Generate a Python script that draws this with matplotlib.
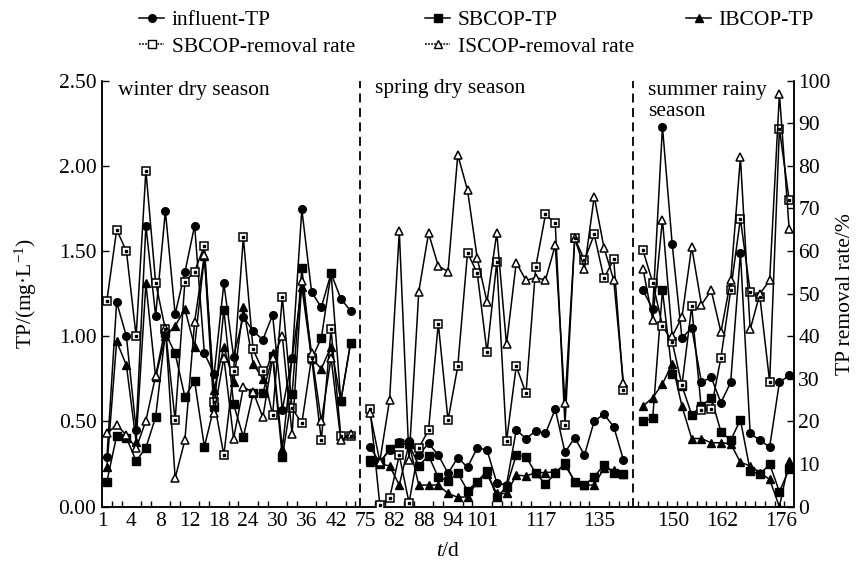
import numpy as np
import matplotlib
matplotlib.use("Agg")
import matplotlib.pyplot as plt
from matplotlib.lines import Line2D

# ---------------- data ----------------
# winter dry season (26 samples), spring dry season (27), summer rainy season (16)
winter_influent = [0.29, 1.20, 1.00, 0.45, 1.65, 1.12, 1.735, 1.13, 1.375, 1.65, 0.90, 0.78, 1.31,
                   0.88, 1.115, 1.03, 0.98, 1.125, 0.57, 0.87, 1.745, 1.26, 1.17, 1.37, 1.22, 1.15]
winter_sbcop = [0.147, 0.417, 0.405, 0.268, 0.346, 0.526, 1.02, 0.90, 0.645, 0.737, 0.352, 0.587, 1.155,
                0.60, 0.41, 0.665, 0.665, 0.884, 0.29, 0.66, 1.40, 0.865, 0.99, 1.37, 0.62, 0.96]
winter_ibcop = [0.235, 0.97, 0.83, 0.38, 1.31, 0.76, 1.00, 1.06, 1.16, 0.94, 1.47, 0.685, 0.94,
                0.73, 1.17, 0.84, 0.75, 0.90, 0.34, 0.87, 1.29, 0.87, 0.81, 0.94, 0.62, 0.96]
winter_sb_rate = [48.4, 65.0, 60.0, 40.0, 78.9, 52.6, 41.6, 20.3, 52.8, 55.2, 61.3, 24.6, 12.1,
                  31.9, 63.2, 36.9, 31.9, 21.5, 49.3, 23.1, 19.6, 35.0, 15.6, 41.6, 16.6, 16.6]
winter_is_rate = [17.2, 19.2, 16.8, 13.7, 20.2, 30.7, 42.0, 6.7, 15.6, 43.4, 59.0, 22.0, 35.0,
                  16.0, 28.0, 27.0, 21.0, 35.0, 40.0, 17.0, 53.0, 36.0, 20.0, 35.0, 15.6, 17.0]

spring_influent = [0.348, 0.26, 0.333, 0.381, 0.385, 0.303, 0.372, 0.303, 0.196, 0.288, 0.231, 0.346,
                   0.333, 0.141, 0.127, 0.45, 0.40, 0.444, 0.43, 0.573, 0.319, 0.405, 0.303, 0.503,
                   0.542, 0.47, 0.274]
spring_sbcop = [0.274, 0.26, 0.336, 0.372, 0.366, 0.24, 0.30, 0.172, 0.153, 0.196, 0.094, 0.147, 0.211,
                0.055, 0.117, 0.303, 0.293, 0.196, 0.133, 0.196, 0.254, 0.147, 0.127, 0.176, 0.245,
                0.20, 0.19]
spring_ibcop = [0.26, 0.25, 0.24, 0.127, 0.37, 0.127, 0.127, 0.127, 0.078, 0.055, 0.058, 0.147, 0.19,
                0.078, 0.078, 0.186, 0.18, 0.20, 0.20, 0.205, 0.245, 0.147, 0.127, 0.127, 0.225,
                0.215, 0.19]
spring_sb_rate = [22.9, 0.5, 2.0, 12.1, 0.9, 13.8, 18.0, 43.0, 20.3, 33.0, 59.6, 54.8, 36.2, 57.4,
                  15.4, 33.0, 26.6, 56.3, 68.6, 66.5, 19.2, 63.0, 57.9, 63.9, 53.6, 58.1, 27.4]
spring_is_rate = [21.9, 10.6, 25.0, 64.6, 11.0, 50.5, 64.2, 56.5, 55.2, 82.6, 74.3, 58.3, 48.1, 64.3,
                  38.1, 57.3, 53.1, 53.8, 53.2, 61.4, 24.3, 63.0, 55.9, 72.8, 60.8, 53.2, 29.0]

summer_influent = [1.27, 1.16, 2.23, 1.54, 0.99, 1.05, 0.73, 0.76, 0.61, 0.73, 1.49, 0.43, 0.39,
                   0.35, 0.73, 0.77]
summer_sbcop = [0.50, 0.52, 1.27, 0.78, 0.71, 0.54, 0.59, 0.64, 0.44, 0.39, 0.51, 0.21, 0.19,
                0.25, 0.088, 0.22]
summer_ibcop = [0.59, 0.64, 0.72, 0.84, 0.59, 0.40, 0.40, 0.375, 0.375, 0.37, 0.26, 0.24, 0.20,
                0.16, 0.0, 0.27]
summer_sb_rate = [60.2, 52.6, 42.5, 38.7, 28.5, 47.0, 22.7, 23.0, 35.0, 50.8, 67.6, 50.4, 49.2,
                  29.3, 88.7, 72.0]
summer_is_rate = [55.9, 43.9, 67.4, 40.0, 44.5, 61.0, 47.4, 50.8, 41.0, 53.1, 82.0, 41.6, 50.0,
                  53.1, 96.9, 65.2]

season_names = ["winter dry season", "spring dry season", "summer rainy\nseason"]
season_start_slot = [0, 27, 55]        # category slot of first sample in each season
divider_slots = [26.5, 54.5]
xtick_slots = [0, 3, 6, 9, 12, 15, 18, 21, 24, 27, 30, 33, 36, 39, 45, 51, 58.6, 63.6, 69.7]
xtick_labels = ["1", "4", "8", "12", "18", "24", "30", "36", "42", "75", "82", "88", "94", "101",
                "117", "135", "150", "162", "176"]
n_slots = 71

# ---------------- style ----------------
plt.rcParams["font.family"] = ["Liberation Serif", "DejaVu Serif"]
plt.rcParams["mathtext.fontset"] = "custom"
plt.rcParams["mathtext.rm"] = "Liberation Serif"
plt.rcParams["mathtext.it"] = "Liberation Serif:italic"
FS = 15.5

fig = plt.figure(figsize=(8.56, 5.63), dpi=100)
ax = fig.add_axes([0.1192, 0.1, 0.8084, 0.7567])
ax2 = ax.twinx()

seasons = [
    (winter_influent, winter_sbcop, winter_ibcop, winter_sb_rate, winter_is_rate),
    (spring_influent, spring_sbcop, spring_ibcop, spring_sb_rate, spring_is_rate),
    (summer_influent, summer_sbcop, summer_ibcop, summer_sb_rate, summer_is_rate),
]

lw = 1.1
for (inf, sb, ib, sbr, isr), start in zip(seasons, season_start_slot):
    x = start + np.arange(len(inf)) + 0.5
    ax2.plot(x, sbr, color="black", lw=lw, marker="s", ms=5.2, mfc="white", mec="black", mew=1.1, zorder=3)
    ax2.plot(x, sbr, ls="none", marker="s", ms=1.6, mfc="black", mec="black", zorder=4)
    ax2.plot(x, isr, color="black", lw=lw, marker="^", ms=6, mfc="white", mec="black", mew=1.1, zorder=3)
    ax.plot(x, inf, color="black", lw=lw, marker="o", ms=5.5, mfc="black", mec="black", zorder=3)
    ax.plot(x, sb, color="black", lw=lw, marker="s", ms=5.5, mfc="black", mec="black", zorder=3)
    ax.plot(x, ib, color="black", lw=lw, marker="^", ms=6, mfc="black", mec="black", zorder=3)

for d in divider_slots:
    ax.axvline(d, color="black", lw=1.3, ls=(0, (5, 3)), zorder=2)

ax.set_xlim(0, n_slots)
ax.set_ylim(0, 2.5)
ax2.set_ylim(0, 100)

ax.set_xticks(xtick_slots)
ax.set_xticklabels(xtick_labels, fontsize=FS)
ax.set_xticks(np.arange(1, n_slots), minor=True)
ax.tick_params(axis="x", which="major", length=0, pad=4)
ax.tick_params(axis="x", which="minor", direction="in", length=4.5, width=1)

ax.set_yticks(np.arange(0, 2.51, 0.5))
ax.set_yticklabels([f"{v:.2f}" for v in np.arange(0, 2.51, 0.5)], fontsize=FS)
ax.tick_params(axis="y", direction="in", length=5, width=1, pad=4)
ax2.set_yticks(np.arange(0, 101, 10))
ax2.set_yticklabels([str(v) for v in range(0, 101, 10)], fontsize=FS)
ax2.tick_params(axis="y", direction="in", length=5, width=1, pad=3)

for a in (ax, ax2):
    a.spines["top"].set_visible(False)
    for s in ("left", "right", "bottom"):
        a.spines[s].set_linewidth(1.1)

ax.set_ylabel("TP/(mg·L$^{-1}$)", fontsize=FS, labelpad=14)
ax2.set_ylabel("TP removal rate/%", fontsize=FS, labelpad=4)
ax.set_xlabel("$t$/d", fontsize=FS, labelpad=8)

ax.text(1.6, 2.445, season_names[0], fontsize=FS, va="center", ha="left")
ax.text(28.0, 2.455, season_names[1], fontsize=FS, va="center", ha="left")
ax.text(56.0, 2.38, season_names[2], fontsize=FS, va="center", ha="left", linespacing=1.1)

# legend: three manually placed columns
solid_circle = Line2D([], [], color="black", lw=lw, marker="o", ms=5.5)
solid_square = Line2D([], [], color="black", lw=lw, marker="s", ms=5.5)
solid_tri = Line2D([], [], color="black", lw=lw, marker="^", ms=6)
open_square = Line2D([], [], color="black", lw=lw, ls=(0, (1.2, 0.8)), marker="s", ms=5.2,
                     mfc="white", mec="black")
open_tri = Line2D([], [], color="black", lw=lw, ls=(0, (1.2, 0.8)), marker="^", ms=6,
                  mfc="white", mec="black")
columns = [
    ([solid_circle, open_square], ["influent-TP", "SBCOP-removal rate"], 135),
    ([solid_square, open_tri], ["SBCOP-TP", "ISCOP-removal rate"], 421),
    ([solid_tri], ["IBCOP-TP"], 682),
]
for hs, ls_, xpx in columns:
    fig.legend(hs, ls_, loc="upper left", bbox_to_anchor=(xpx / 856, 1.0 - 6 / 563), frameon=False,
               fontsize=FS, handlelength=1.15, handletextpad=0.35, labelspacing=0.3,
               borderaxespad=0, borderpad=0.2)

fig.savefig("out.png", dpi=100)
